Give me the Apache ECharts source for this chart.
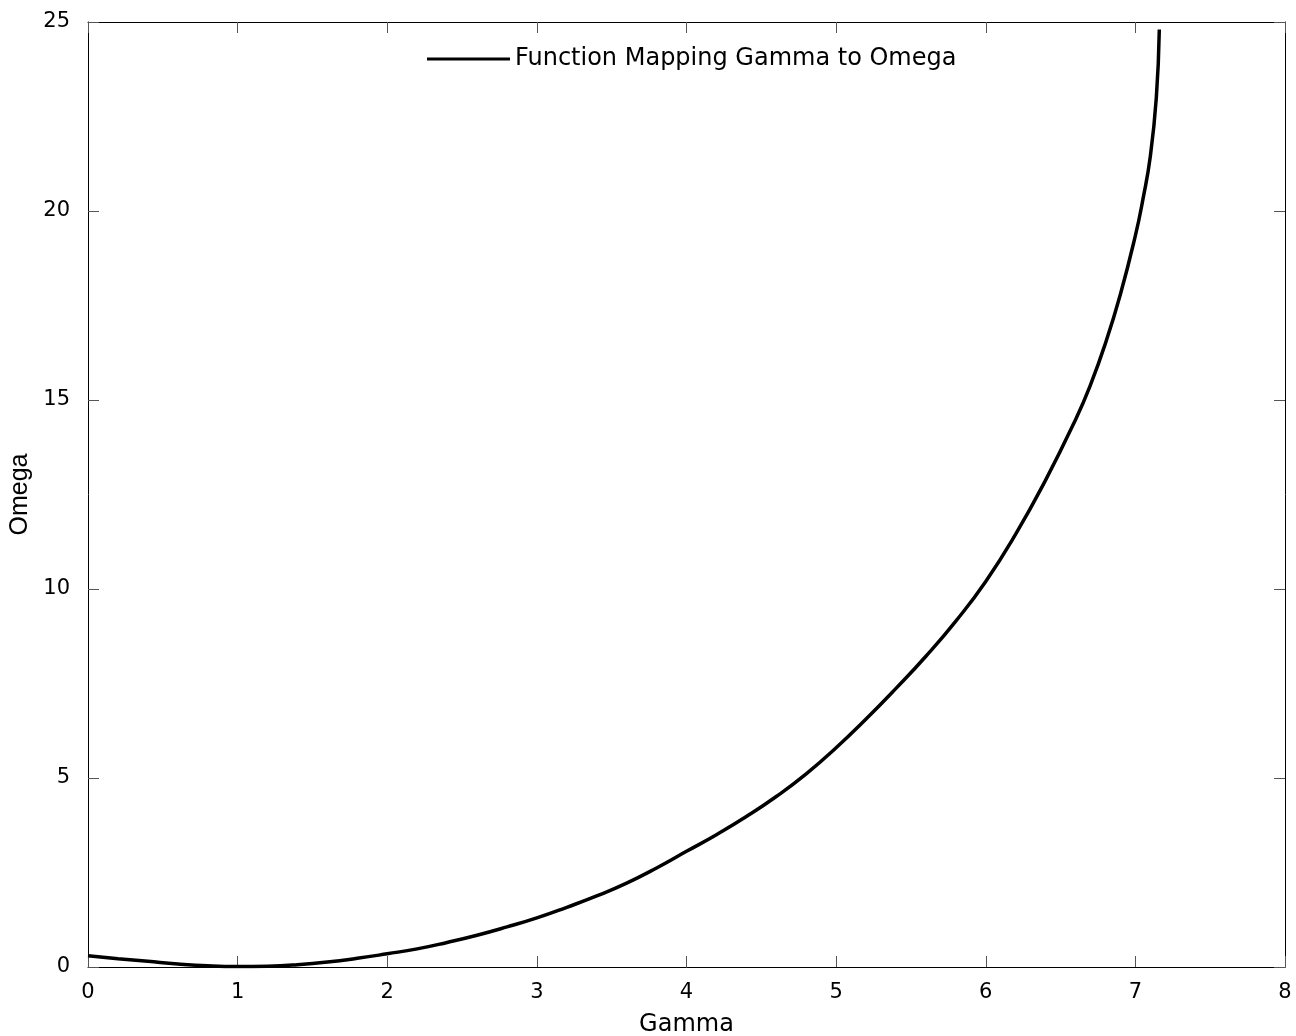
<!DOCTYPE html>
<html>
<head>
<meta charset="utf-8">
<script src="https://cdn.jsdelivr.net/npm/echarts@6/dist/echarts.min.js"></script>
<style>
  html, body { margin: 0; padding: 0; background: #fff; }
</style>
</head>
<body>
<div id="gl_chart" style="width: 1296px; height: 1036px"></div>
<script>
// values
var gamma = [0, 0.2, 0.4, 0.6, 0.8, 1.0, 1.2, 1.4, 1.6, 1.8, 2.0, 2.2, 2.4, 2.6, 2.8,
  3.0, 3.2, 3.4, 3.6, 3.8, 4.0, 4.2, 4.4, 4.6, 4.8, 5.0, 5.2, 5.4, 5.6, 5.8,
  6.0, 6.2, 6.4, 6.6, 6.7, 6.8, 6.9, 7.0, 7.05, 7.1, 7.14, 7.16];
var omega = [0.30, 0.22, 0.15, 0.08, 0.03, 0.01, 0.02, 0.06, 0.13, 0.23, 0.35, 0.48, 0.65, 0.84, 1.06,
  1.30, 1.58, 1.88, 2.22, 2.62, 3.06, 3.50, 3.98, 4.51, 5.11, 5.80, 6.56, 7.37, 8.22, 9.15,
  10.2, 11.45, 12.88, 14.48, 15.4, 16.5, 17.8, 19.35, 20.3, 21.45, 23.0, 24.8];
var xTicks = [0, 8, 1];
var yTicks = [0, 25, 5];
var seriesName = "Function Mapping Gamma to Omega";

var pts = [];
for (var i = 0; i < gamma.length; i++) {
  pts.push([gamma[i], omega[i]]);
}

var myChart = echarts.init(document.getElementById("gl_chart"));
var font = "DejaVu Sans, sans-serif";

var tickStyle = { show: true, inside: true, length: 11, lineStyle: { color: "#555", width: 1 } };
var lineStyle = { show: true, onZero: false, lineStyle: { color: "#000", width: 1 } };

var option = {
  backgroundColor: "#fff",
  animation: false,
  grid: { left: 88, right: 11, top: 22, bottom: 69, containLabel: false, outerBoundsMode: "none" },
  legend: {
    left: 427,
    top: 47,
    padding: 0,
    icon: "rect",
    itemWidth: 83,
    itemHeight: 3,
    data: [seriesName],
    textStyle: { color: "#000", fontSize: 24, fontFamily: font },
  },
  xAxis: [
    {
      type: "value",
      min: xTicks[0],
      max: xTicks[1],
      interval: xTicks[2],
      name: "Gamma",
      nameLocation: "middle",
      nameGap: 46,
      nameTextStyle: { color: "#000", fontSize: 24, fontFamily: font },
      axisLine: lineStyle,
      axisTick: tickStyle,
      axisLabel: { color: "#000", fontSize: 21, fontFamily: font, margin: 15 },
      splitLine: { show: false },
    },
    {
      type: "value",
      position: "top",
      min: xTicks[0],
      max: xTicks[1],
      interval: xTicks[2],
      axisLine: lineStyle,
      axisTick: tickStyle,
      axisLabel: { show: false },
      splitLine: { show: false },
    },
  ],
  yAxis: [
    {
      type: "value",
      min: yTicks[0],
      max: yTicks[1],
      interval: yTicks[2],
      name: "Omega",
      nameLocation: "middle",
      nameGap: 54,
      nameTextStyle: { color: "#000", fontSize: 25, fontFamily: "Liberation Sans, Arial, sans-serif" },
      axisLine: lineStyle,
      axisTick: tickStyle,
      axisLabel: { color: "#000", fontSize: 21, fontFamily: font, margin: 18 },
      splitLine: { show: false },
    },
    {
      type: "value",
      position: "right",
      min: yTicks[0],
      max: yTicks[1],
      interval: yTicks[2],
      axisLine: lineStyle,
      axisTick: tickStyle,
      axisLabel: { show: false },
      splitLine: { show: false },
    },
  ],
  series: [
    {
      name: seriesName,
      type: "line",
      xAxisIndex: 0,
      yAxisIndex: 0,
      symbol: "none",
      smooth: 0.5,
      itemStyle: { color: "#000" },
      lineStyle: { color: "#000", width: 3.5 },
      data: pts,
    },
  ],
};
myChart.setOption(option);
</script>
</body>
</html>
